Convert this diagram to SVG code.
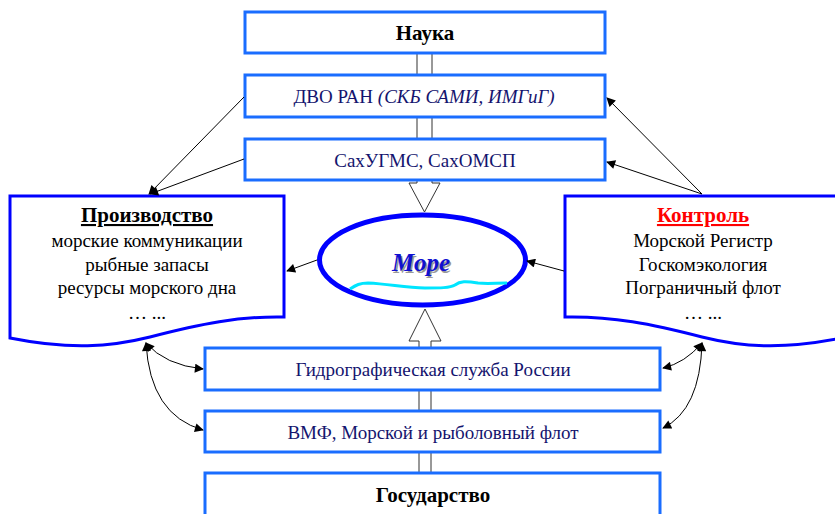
<svg xmlns="http://www.w3.org/2000/svg" width="835" height="514" viewBox="0 0 835 514">
<style>
.box{fill:#fff;stroke:#1a6dff;stroke-width:3}
.doc{fill:#fff;stroke:#0000ff;stroke-width:3}
.t{font-family:"Liberation Serif","DejaVu Serif",serif;text-anchor:middle}
.nv{fill:#14146e;font-size:19px}
.bk{fill:#000;font-size:19px}
.hd{font-weight:bold;font-size:21px}
.ln{fill:none;stroke:#000;stroke-width:1}
.shaft{fill:#fff;stroke:#333;stroke-width:1}
</style>
<defs>
<marker id="ah" viewBox="0 0 10 10" refX="9" refY="5" markerWidth="11" markerHeight="9" markerUnits="userSpaceOnUse" orient="auto-start-reverse">
<path d="M0,0 L10,5 L0,10 Z" fill="#000"/>
</marker>
</defs>

<g id="shafts">
<rect class="shaft" x="417" y="53" width="15" height="22"/>
<rect class="shaft" x="417" y="117" width="15" height="22"/>
<path class="shaft" d="M417,180 V183 H409 L424.5,212 L440,183 H432 V180"/>
<path class="shaft" d="M419,348 V341 H409 L425,309 L441,341 H431 V348"/>
<rect class="shaft" x="419" y="390" width="12" height="21"/>
<rect class="shaft" x="419" y="452" width="12" height="21"/>
</g>

<g id="nauka">
<rect class="box" x="245" y="12" width="360" height="41"/>
<text class="t hd" x="425" y="40">Наука</text>
</g>
<g id="dvo">
<rect class="box" x="245" y="75" width="360" height="42"/>
<text class="t nv" x="424" y="103" font-size="17">ДВО РАН <tspan font-style="italic">(СКБ САМИ, ИМГиГ)</tspan></text>
</g>
<g id="sakh">
<rect class="box" x="245" y="139" width="360" height="41"/>
<text class="t nv" x="425" y="167">СахУГМС, СахОМСП</text>
</g>

<g id="proizvodstvo">
<path class="doc" d="M10,196 H284 V317 C240,316 200,324 150,337 C110,347 70,350 10,338 Z"/>
<text class="t hd" x="147" y="222" text-decoration="underline">Производство</text>
<text class="t bk" x="147" y="247">морские коммуникации</text>
<text class="t bk" x="147" y="271">рыбные запасы</text>
<text class="t bk" x="147" y="294">ресурсы морского дна</text>
<text class="t bk" x="147" y="319" font-size="15">… ...</text>
</g>

<g id="kontrol">
<path class="doc" d="M565,196 H842 V338 C782,350 742,347 702,337 C652,324 612,316 565,317 Z"/>
<text class="t hd" x="703" y="222" fill="#ff0000" text-decoration="underline">Контроль</text>
<text class="t bk" x="703" y="247">Морской Регистр</text>
<text class="t bk" x="703" y="271">Госкомэкология</text>
<text class="t bk" x="703" y="294">Пограничный флот</text>
<text class="t bk" x="703" y="319" font-size="15">… ...</text>
</g>

<g id="more">
<ellipse cx="422.5" cy="260" rx="103" ry="45" fill="#fff" stroke="#0000ff" stroke-width="5"/>
<path d="M350,289 C356,285 360,283 368,283 C390,284 405,288 425,288 C440,288 450,288 455,285 C460,281 466,281 478,283 C488,284 495,283 507,283" fill="none" stroke="#00e5ff" stroke-width="3"/>
<text class="t" x="421" y="271" font-size="25" font-weight="bold" font-style="italic" fill="#999" transform="translate(1.5,1.5)">Море</text>
<text class="t" x="421" y="271" font-size="25" font-weight="bold" font-style="italic" fill="#1010d0">Море</text>
</g>

<g id="gidro">
<rect class="box" x="205" y="348" width="455" height="42"/>
<text class="t nv" x="433" y="376">Гидрографическая служба России</text>
</g>
<g id="vmf">
<rect class="box" x="205" y="411" width="455" height="41"/>
<text class="t nv" x="433" y="439">ВМФ, Морской и рыболовный флот</text>
</g>
<g id="gosudarstvo">
<rect class="box" x="205" y="473" width="455" height="50"/>
<text class="t hd" x="433" y="502">Государство</text>
</g>

<g id="connectors">
<line class="ln" x1="244" y1="97" x2="149" y2="194" marker-end="url(#ah)"/>
<line class="ln" x1="244" y1="159" x2="150" y2="194" marker-end="url(#ah)"/>
<line class="ln" x1="702" y1="194" x2="607" y2="98" marker-end="url(#ah)"/>
<line class="ln" x1="702" y1="194" x2="607" y2="162" marker-end="url(#ah)"/>
<line class="ln" x1="317" y1="260" x2="287" y2="271" marker-end="url(#ah)"/>
<line class="ln" x1="564" y1="271" x2="527" y2="261" marker-end="url(#ah)"/>
<path class="ln" d="M146,343 Q165,365 203,369" marker-start="url(#ah)" marker-end="url(#ah)"/>
<path class="ln" d="M146,343 Q150,415 203,430" marker-start="url(#ah)" marker-end="url(#ah)"/>
<path class="ln" d="M702,343 Q685,363 663,368" marker-start="url(#ah)" marker-end="url(#ah)"/>
<path class="ln" d="M702,343 Q700,410 663,428" marker-start="url(#ah)" marker-end="url(#ah)"/>
</g>
</svg>
